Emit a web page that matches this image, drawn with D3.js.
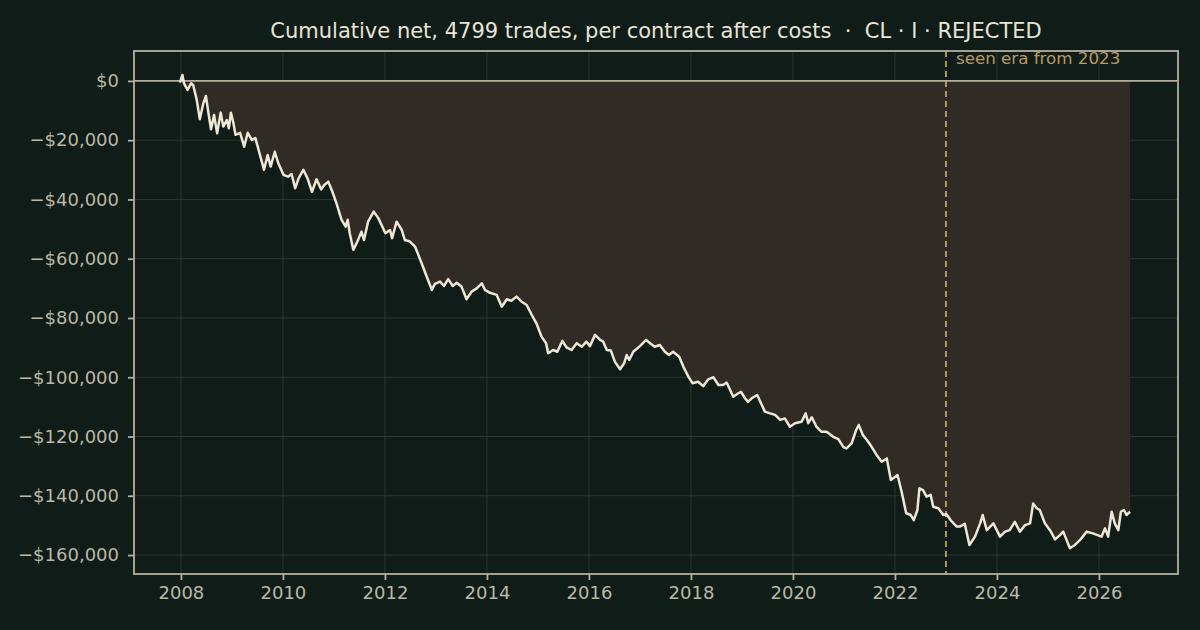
<!DOCTYPE html>
<html>
<head>
<meta charset="utf-8">
<script src="https://cdn.jsdelivr.net/npm/d3@7"></script>
<style>
  html, body { margin: 0; padding: 0; background: #0f1c17; }
  svg { display: block; font-family: "DejaVu Sans", sans-serif; }
</style>
</head>
<body>
<svg id="chart" width="1200" height="630"></svg>
<script>
// decimal year of each read point
const years = [
  2007.98, 2008.03, 2008.06, 2008.13, 2008.20, 2008.24, 2008.31, 2008.37, 2008.44, 2008.49,
  2008.54, 2008.59, 2008.65, 2008.71, 2008.78, 2008.83, 2008.90, 2008.94, 2008.98, 2009.03,
  2009.07, 2009.16, 2009.24, 2009.31, 2009.39, 2009.46, 2009.55, 2009.63, 2009.70, 2009.76,
  2009.84, 2009.91, 2010.01, 2010.10, 2010.17, 2010.24, 2010.31, 2010.40, 2010.48, 2010.57,
  2010.66, 2010.75, 2010.81, 2010.89, 2010.97, 2011.05, 2011.15, 2011.23, 2011.27, 2011.31,
  2011.38, 2011.46, 2011.54, 2011.59, 2011.67, 2011.78, 2011.87, 2011.95, 2012.01, 2012.10,
  2012.14, 2012.23, 2012.33, 2012.39, 2012.49, 2012.59, 2012.72, 2012.82, 2012.92, 2012.98,
  2013.08, 2013.16, 2013.24, 2013.33, 2013.41, 2013.50, 2013.60, 2013.70, 2013.80, 2013.90,
  2013.96, 2014.06, 2014.19, 2014.29, 2014.39, 2014.48, 2014.58, 2014.68, 2014.78, 2014.88,
  2014.97, 2015.07, 2015.16, 2015.20, 2015.30, 2015.38, 2015.48, 2015.56, 2015.66, 2015.76,
  2015.86, 2015.95, 2016.02, 2016.12, 2016.22, 2016.28, 2016.35, 2016.43, 2016.51, 2016.61,
  2016.69, 2016.74, 2016.79, 2016.87, 2017.00, 2017.12, 2017.20, 2017.29, 2017.39, 2017.49,
  2017.57, 2017.65, 2017.77, 2017.85, 2017.95, 2018.03, 2018.14, 2018.24, 2018.34, 2018.44,
  2018.54, 2018.63, 2018.70, 2018.83, 2018.93, 2018.98, 2019.06, 2019.12, 2019.19, 2019.30,
  2019.39, 2019.45, 2019.55, 2019.65, 2019.75, 2019.84, 2019.94, 2020.04, 2020.17, 2020.25,
  2020.30, 2020.37, 2020.46, 2020.56, 2020.66, 2020.79, 2020.89, 2020.99, 2021.05, 2021.15,
  2021.24, 2021.29, 2021.37, 2021.45, 2021.54, 2021.64, 2021.74, 2021.84, 2021.92, 2022.05,
  2022.13, 2022.22, 2022.31, 2022.37, 2022.44, 2022.48, 2022.55, 2022.62, 2022.70, 2022.75,
  2022.85, 2022.95, 2023.01, 2023.09, 2023.21, 2023.27, 2023.37, 2023.46, 2023.57, 2023.67,
  2023.72, 2023.80, 2023.93, 2024.06, 2024.16, 2024.25, 2024.35, 2024.45, 2024.55, 2024.65,
  2024.71, 2024.78, 2024.84, 2024.94, 2025.04, 2025.14, 2025.24, 2025.30, 2025.43, 2025.53,
  2025.63, 2025.76, 2025.88, 2025.96, 2026.05, 2026.12, 2026.18, 2026.25, 2026.31, 2026.38,
  2026.43, 2026.49, 2026.54, 2026.61
];

// cumulative net in dollars
const cumNet = [
  -600, 2000, -800, -3000, -800, -1400, -6400, -12900, -7500, -5100,
  -10900, -16300, -11500, -17700, -10700, -15400, -13200, -16000, -10700, -14300,
  -18200, -17500, -22200, -17500, -19900, -19300, -25000, -30000, -25000, -28900,
  -23900, -27800, -31700, -32300, -31400, -36200, -32800, -30000, -32800, -37400,
  -33200, -36600, -35100, -34000, -37400, -41300, -46900, -49200, -46900, -51400,
  -57000, -54200, -50900, -53700, -47500, -44100, -46300, -49200, -51400, -50300,
  -53100, -47500, -50300, -53700, -54200, -55900, -61500, -66100, -70500, -68500,
  -67700, -69200, -66900, -69200, -68100, -69400, -73700, -71100, -70000, -68300,
  -70500, -71500, -72200, -76200, -73700, -74200, -72800, -74500, -75600, -79000,
  -81800, -86300, -88500, -91900, -90800, -91400, -87700, -89900, -90800, -88500,
  -89700, -88000, -89500, -85700, -87400, -88000, -90800, -91000, -94800, -97300,
  -95300, -92500, -94200, -91400, -89500, -87400, -88500, -89700, -89100, -91400,
  -92500, -91400, -93100, -96400, -99800, -102000, -101500, -103000, -100700, -100000,
  -102600, -102600, -101800, -106600, -105400, -104900, -107100, -108300, -107100, -106000,
  -109400, -111600, -112200, -112700, -114400, -113900, -116700, -115500, -115000, -112200,
  -115500, -113500, -116700, -118400, -118400, -120100, -120900, -123600, -124000, -122300,
  -117800, -116100, -119500, -121200, -123400, -126200, -128500, -127400, -134700, -133000,
  -138600, -145900, -146500, -148200, -144800, -137500, -138100, -140300, -139700, -143700,
  -144200, -146500, -146200, -148200, -150400, -150400, -149500, -156600, -153800, -149300,
  -146500, -151600, -149300, -153800, -152100, -151600, -148800, -152100, -149900, -149300,
  -142600, -144200, -144800, -149300, -151600, -154700, -153200, -152100, -157700, -156600,
  -154900, -152100, -152700, -153200, -153800, -151000, -153800, -145400, -149300, -151600,
  -145400, -144800, -146500, -145400
];

const xTicks = [2008, 2010, 2012, 2014, 2016, 2018, 2020, 2022, 2024, 2026];
const yTicks = [0, -20000, -40000, -60000, -80000, -100000, -120000, -140000, -160000];
const seenEraYear = 2023;

const titleText = "Cumulative net, 4799 trades, per contract after costs  \u00b7  CL \u00b7 I \u00b7 REJECTED";
const seenLabel = "seen era from 2023";

const width = 1200, height = 630;
const margin = { top: 51, right: 22, bottom: 56, left: 134 };
const innerW = width - margin.left - margin.right;
const innerH = height - margin.top - margin.bottom;

const spineColor = "#b4b09d";
const tickTextColor = "#bcb8a4";

const svg = d3.select("#chart");
svg.append("rect").attr("width", width).attr("height", height).attr("fill", "#0f1c17");

const g = svg.append("g").attr("transform", `translate(${margin.left},${margin.top})`);

const x = d3.scaleLinear().domain([2007.08, 2027.55]).range([0, innerW]);
const y = d3.scaleLinear().domain([-166400, 10100]).range([innerH, 0]);

const points = years.map((yr, i) => ({ yr, v: cumNet[i] }));

// grid
g.append("g")
  .selectAll("line")
  .data(xTicks)
  .join("line")
  .attr("x1", (d) => x(d))
  .attr("x2", (d) => x(d))
  .attr("y1", 0)
  .attr("y2", innerH)
  .attr("stroke", "#2b3831")
  .attr("stroke-width", 1);

g.append("g")
  .selectAll("line")
  .data(yTicks.filter((d) => d !== 0))
  .join("line")
  .attr("x1", 0)
  .attr("x2", innerW)
  .attr("y1", (d) => y(d))
  .attr("y2", (d) => y(d))
  .attr("stroke", "#2b3831")
  .attr("stroke-width", 1);

// shaded area between zero and the curve
const area = d3
  .area()
  .x((d) => x(d.yr))
  .y0(y(0))
  .y1((d) => y(Math.min(d.v, 0)));

g.append("path")
  .datum(points)
  .attr("d", area)
  .attr("fill", "#312b26");

// zero line
g.append("line")
  .attr("x1", 0)
  .attr("x2", innerW)
  .attr("y1", y(0))
  .attr("y2", y(0))
  .attr("stroke", spineColor)
  .attr("stroke-width", 1.8);

// seen era marker
g.append("line")
  .attr("x1", x(seenEraYear))
  .attr("x2", x(seenEraYear))
  .attr("y1", 0)
  .attr("y2", innerH)
  .attr("stroke", "#c99f5e")
  .attr("stroke-width", 1.8)
  .attr("stroke-dasharray", "6,4");

g.append("text")
  .attr("x", x(seenEraYear) + 10)
  .attr("y", 13)
  .attr("fill", "#b8995f")
  .attr("font-size", 16.7)
  .text(seenLabel);

// equity line
const line = d3
  .line()
  .x((d) => x(d.yr))
  .y((d) => y(d.v));

g.append("path")
  .datum(points)
  .attr("d", line)
  .attr("fill", "none")
  .attr("stroke", "#efe7d5")
  .attr("stroke-width", 2.5)
  .attr("stroke-linejoin", "round");

// axes
const fmtMoney = (v) => (v < 0 ? "\u2212" : "") + "$" + d3.format(",")(Math.abs(v));

const xAxis = g
  .append("g")
  .attr("transform", `translate(0,${innerH})`)
  .call(d3.axisBottom(x).tickValues(xTicks).tickFormat(d3.format("d")).tickSize(6).tickPadding(6));

const yAxis = g
  .append("g")
  .call(d3.axisLeft(y).tickValues(yTicks).tickFormat(fmtMoney).tickSize(6).tickPadding(9));

[xAxis, yAxis].forEach((ax) => {
  ax.select(".domain").remove();
  ax.selectAll(".tick line").attr("stroke", spineColor).attr("stroke-width", 1.8);
  ax.selectAll(".tick text")
    .attr("fill", tickTextColor)
    .attr("font-size", 18)
    .attr("font-family", "DejaVu Sans, sans-serif");
});

// frame
g.append("rect")
  .attr("width", innerW)
  .attr("height", innerH)
  .attr("fill", "none")
  .attr("stroke", spineColor)
  .attr("stroke-width", 1.8);

// title
svg.append("text")
  .attr("x", margin.left + innerW / 2)
  .attr("y", 38)
  .attr("text-anchor", "middle")
  .attr("fill", "#e9e4d5")
  .attr("font-size", 21)
  .attr("xml:space", "preserve")
  .style("white-space", "pre")
  .text(titleText);
</script>
</body>
</html>
